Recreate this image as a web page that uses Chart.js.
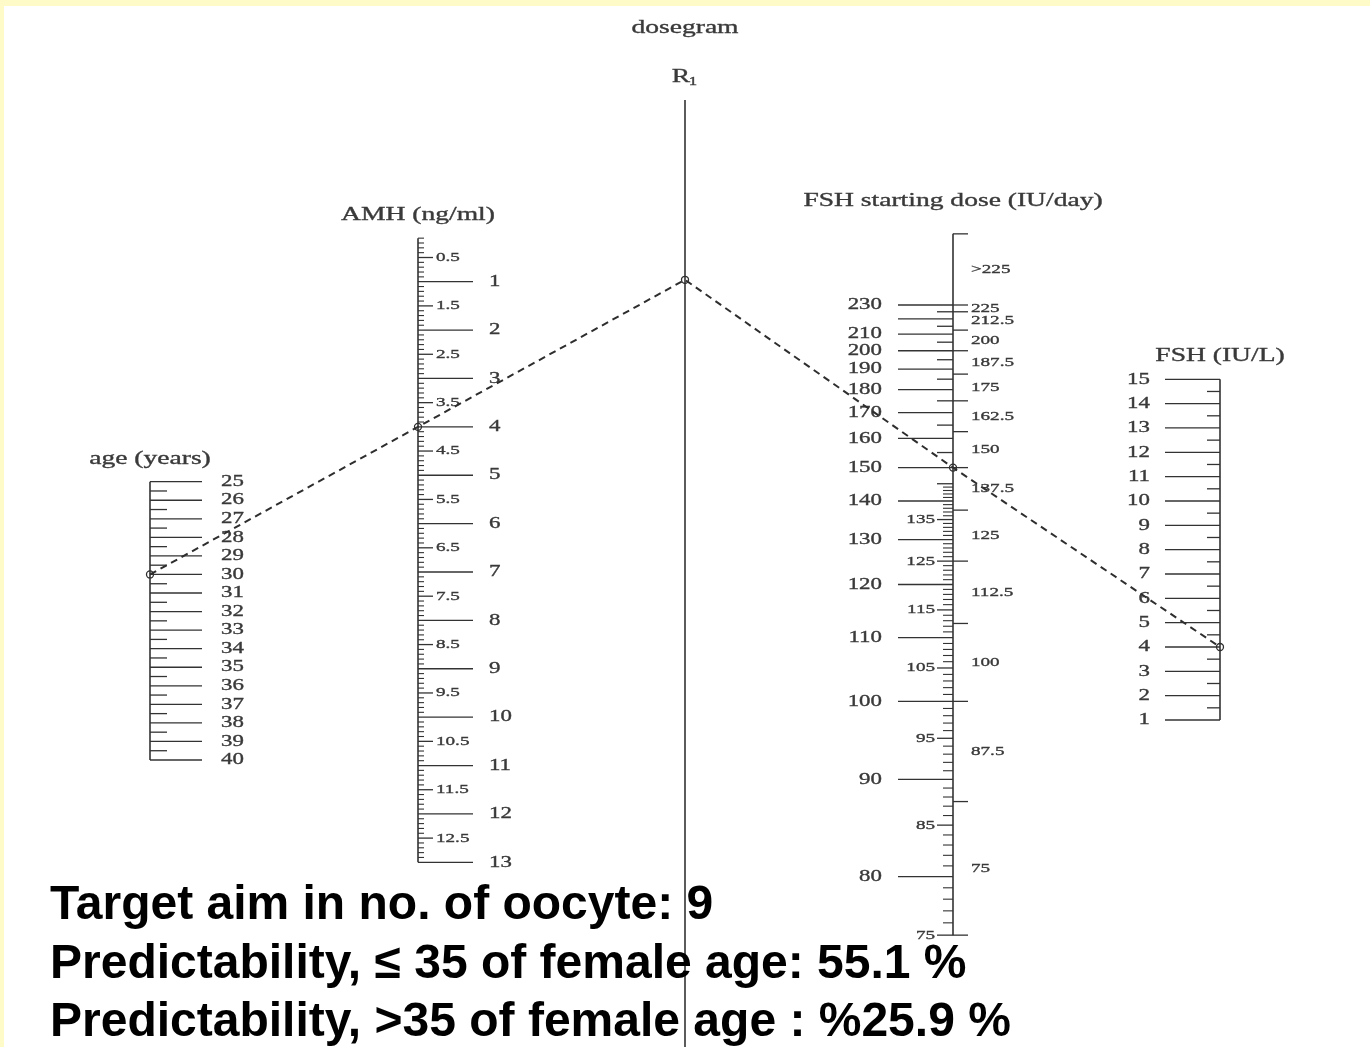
<!DOCTYPE html>
<html>
<head>
<meta charset="utf-8">
<script src="https://cdn.jsdelivr.net/npm/chart.js@4.4.1/dist/chart.umd.min.js"></script>
<style>
html,body{margin:0;padding:0;background:#fff;overflow:hidden;width:1370px;height:1047px;}
#wrap{position:absolute;left:0;top:0;width:1370px;height:1047px;}
.strip{position:absolute;background:#fefbc8;z-index:3;}
#notes{position:absolute;left:50px;top:874px;z-index:2;font:bold 48px "Liberation Sans",Arial,sans-serif;color:#000;line-height:58.5px;white-space:nowrap;}
</style>
</head>
<body>
<div id="wrap"><canvas id="c"></canvas></div>
<div class="strip" style="left:0;top:0;width:1370px;height:6px;"></div>
<div class="strip" style="left:0;top:0;width:4px;height:1047px;"></div>
<div id="notes">Target aim in no. of oocyte: 9<br>Predictability, ≤ 35 of female age: 55.1 %<br>Predictability, &gt;35 of female age : %25.9 %</div>
<script>
// ---------- data ----------
const ageLabels = [25,26,27,28,29,30,31,32,33,34,35,36,37,38,39,40];
const amhLabels = [1,2,3,4,5,6,7,8,9,10,11,12,13];
const amhHalfLabels = ['0.5','1.5','2.5','3.5','4.5','5.5','6.5','7.5','8.5','9.5','10.5','11.5','12.5'];
const fshLabels = [1,2,3,4,5,6,7,8,9,10,11,12,13,14,15];
const doseMajor = [80,90,100,110,120,130,140,150,160,170,180,190,200,210,220,230];
const doseMajorLabels = ['80','90','100','110','120','130','140','150','160','170','180','190','200','210','','230'];
const doseInnerLabels = [75,85,95,105,115,125,135];
const doseBinEdges = [75,87.5,100,112.5,125,137.5,150,162.5,175,187.5,200,212.5,225,230,300];
const doseBinLabels = ['75','87.5','100','112.5','125','137.5','150','162.5','175','187.5','200','212.5','225','>225'];
const isoAxes = ['yAge','yAmh','yDose','yFsh'];
const isoNames = ['age (years)','AMH (ng/ml)','FSH starting dose (IU/day)','FSH (IU/L)'];
const isoValues = [30, 4, 150, 4];

// ---------- layout ----------
const W = 1370, H = 1047;
const AX = {yAge:150, yAmh:418, r1:685, yDose:953, yFsh:1220};
const anchors = {               // value -> pixel anchors of each nomogram axis
  yAge:[25,481.7,40,760],
  yAmh:[1,281.7,13,862.3],
  yDose:[1/230,305,1/80,876.7],
  yFsh:[15,379.3,1,720]
};
const INK = '#333', TXT = '#3a3a3a';
const SERIF = '"Liberation Serif","DejaVu Serif",serif';
const TITLE = [19,1.45], MAJ = [16,1.43], MIN = [13,1.47];
const inv = v => 1 / v;

function scaleFor(id){
  const [v1,p1,v2,p2] = anchors[id];
  const b = (p2-p1)/(v2-v1), a = p1 - b*v1;
  const e1 = -a/b, e2 = (H-a)/b;
  return {type:'linear', display:false, reverse: b>0, min:Math.min(e1,e2), max:Math.max(e1,e2), bounds:'data'};
}

function txt(ctx,s,x,y,f,align){
  ctx.save(); ctx.translate(x,y); ctx.scale(f[1],1);
  ctx.font = f[0]+'px '+SERIF; ctx.textAlign = align; ctx.textBaseline = 'middle';
  ctx.fillStyle = TXT; ctx.strokeStyle = TXT; ctx.lineWidth = 0.35;
  ctx.fillText(s,0,0); ctx.strokeText(s,0,0); ctx.restore();
}
function seg(ctx,x1,y1,x2,y2){ctx.beginPath();ctx.moveTo(x1,y1);ctx.lineTo(x2,y2);ctx.stroke();}

const nomo = {
  id:'nomo',
  beforeDatasetsDraw(chart){
    const ctx = chart.ctx, s = chart.scales;
    const X = v => s.x.getPixelForValue(v);
    ctx.save();
    ctx.strokeStyle = INK; ctx.lineCap = 'butt';

    // top texts
    txt(ctx,'dosegram',X(AX.r1),28,TITLE,'center');
    txt(ctx,'R',X(AX.r1)-4,77,TITLE,'center');
    txt(ctx,'1',X(AX.r1)+8,82,[12,1.4],'center');
    ctx.strokeStyle = INK; ctx.lineWidth = 1.6;
    seg(ctx,X(AX.r1),100,X(AX.r1),H);

    // age axis
    {
      const x = X(AX.yAge), P = v => s.yAge.getPixelForValue(v);
      ctx.lineWidth = 1.6; seg(ctx,x,P(ageLabels[0]),x,P(ageLabels[ageLabels.length-1]));
      ctx.lineWidth = 1.3;
      ageLabels.forEach((v,i)=>{
        seg(ctx,x,P(v),x+52,P(v)); txt(ctx,String(v),x+71,P(v),MAJ,'left');
        if(i<ageLabels.length-1) seg(ctx,x,P(v+0.5),x+17,P(v+0.5));
      });
      txt(ctx,isoNames[0],x,459,TITLE,'center');
    }
    // AMH axis
    {
      const x = X(AX.yAmh), P = v => s.yAmh.getPixelForValue(v);
      ctx.lineWidth = 1.6; seg(ctx,x,P(0.1),x,P(13));
      ctx.lineWidth = 1.1;
      for(let k=1;k<=130;k++){ if(k%5!==0) seg(ctx,x,P(k/10),x+6,P(k/10)); }
      ctx.lineWidth = 1.3;
      amhHalfLabels.forEach(l=>{const v=parseFloat(l); seg(ctx,x,P(v),x+15,P(v)); txt(ctx,l,x+18,P(v),MIN,'left');});
      amhLabels.forEach(v=>{seg(ctx,x,P(v),x+55,P(v)); txt(ctx,String(v),x+71,P(v),MAJ,'left');});
      txt(ctx,isoNames[1],x,215,TITLE,'center');
    }
    // FSH starting dose axis (reciprocal scale)
    {
      const x = X(AX.yDose), P = v => s.yDose.getPixelForValue(inv(v));
      ctx.lineWidth = 1.6; seg(ctx,x,P(doseBinEdges[doseBinEdges.length-1]),x,P(doseBinEdges[0]));
      ctx.lineWidth = 1.1;
      for(let v=76; v<145; v++){ if(v%5!==0) seg(ctx,x-10,P(v),x,P(v)); }
      ctx.lineWidth = 1.3;
      for(let v=75; v<=225; v+=10){ seg(ctx,x-16,P(v),x,P(v)); }
      doseInnerLabels.forEach(v=>txt(ctx,String(v),x-18,P(v),MIN,'right'));
      doseMajor.forEach((v,i)=>{ seg(ctx,x-55,P(v),x,P(v)); if(doseMajorLabels[i]) txt(ctx,doseMajorLabels[i],x-71,P(v),MAJ,'right'); });
      doseBinEdges.forEach(v=>seg(ctx,x,P(v),x+15,P(v)));
      doseBinLabels.forEach((l,i)=>{ const y=(P(doseBinEdges[i])+P(doseBinEdges[i+1]))/2; txt(ctx,l,x+18,y,MIN,'left'); });
      txt(ctx,isoNames[2],x,201,TITLE,'center');
    }
    // FSH IU/L axis
    {
      const x = X(AX.yFsh), P = v => s.yFsh.getPixelForValue(v);
      ctx.lineWidth = 1.6; seg(ctx,x,P(fshLabels[0]),x,P(fshLabels[fshLabels.length-1]));
      ctx.lineWidth = 1.3;
      fshLabels.forEach((v,i)=>{
        seg(ctx,x-55,P(v),x,P(v)); txt(ctx,String(v),x-70,P(v),MAJ,'right');
        if(i<fshLabels.length-1) seg(ctx,x-13,P(v+0.5),x,P(v+0.5));
      });
      txt(ctx,isoNames[3],x,356,TITLE,'center');
    }

    // isopleth (dashed), through the points placed by the library
    const pts = isoAxes.map((id,i)=>chart.getDatasetMeta(i).data[0]);
    const xr = X(AX.r1);
    const yr = pts[0].y + (pts[1].y-pts[0].y)*(xr-pts[0].x)/(pts[1].x-pts[0].x);
    ctx.setLineDash([7,5]); ctx.lineWidth = 2; ctx.strokeStyle = '#2e2e2e';
    ctx.beginPath(); ctx.moveTo(pts[0].x,pts[0].y); ctx.lineTo(pts[1].x,pts[1].y); ctx.lineTo(xr,yr);
    ctx.lineTo(pts[2].x,pts[2].y); ctx.lineTo(pts[3].x,pts[3].y); ctx.stroke();
    ctx.setLineDash([]); ctx.lineWidth = 1.3;
    ctx.beginPath(); ctx.arc(xr,yr,3.5,0,Math.PI*2); ctx.stroke();
    ctx.restore();
  }
};

const datasets = isoAxes.map((id,i)=>({
  label: isoNames[i],
  data: [{x: AX[id], y: id==='yDose' ? inv(isoValues[i]) : isoValues[i]}],
  yAxisID: id,
  pointRadius: 3.5, pointBorderWidth: 1.3,
  borderColor: '#2e2e2e', backgroundColor: 'rgba(255,255,255,0)',
  showLine: false, clip: false
}));

const scales = {x:{type:'linear', display:false, min:0, max:W, bounds:'data'}};
isoAxes.forEach(id=>{ scales[id] = scaleFor(id); });

new Chart(document.getElementById('c'), {
  type: 'scatter',
  data: {datasets},
  options: {
    responsive: true, maintainAspectRatio: false, animation: false, events: [],
    layout: {padding: 0, autoPadding: false},
    plugins: {legend:{display:false}, tooltip:{enabled:false}, title:{display:false}},
    scales
  },
  plugins: [nomo]
});
</script>
</body>
</html>
